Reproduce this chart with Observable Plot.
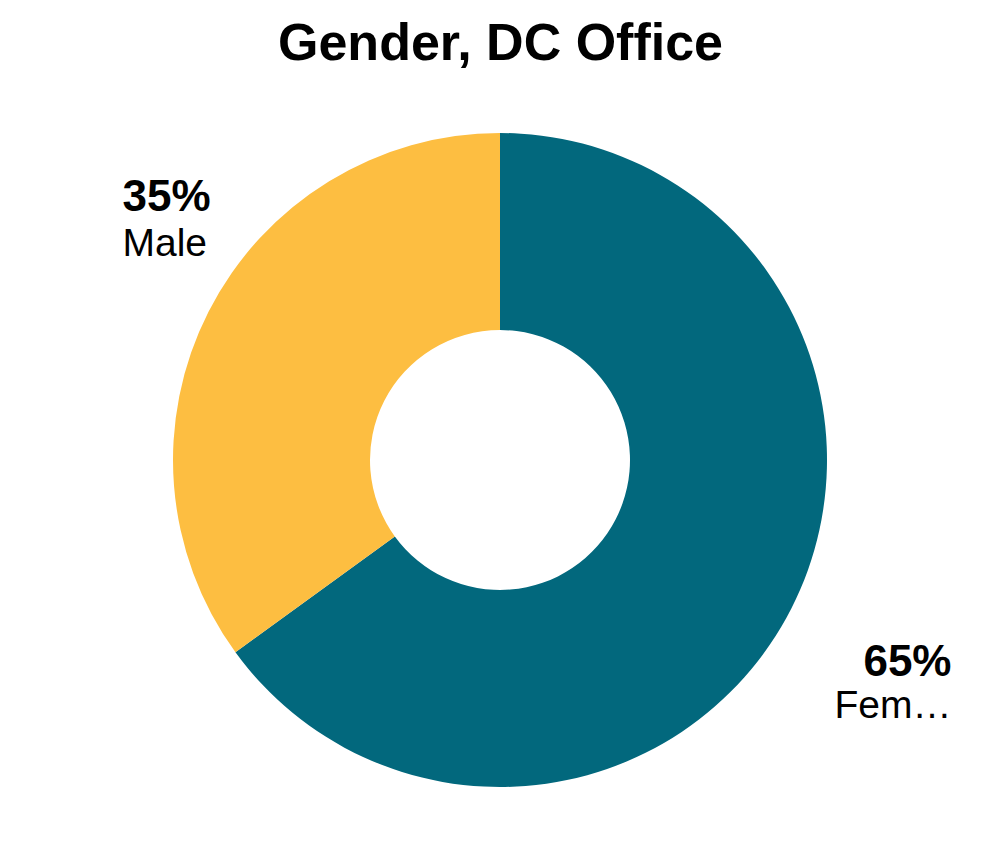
<!DOCTYPE html>
<html><head><meta charset="utf-8">
<script src="https://cdn.jsdelivr.net/npm/d3@7"></script>
<script src="https://cdn.jsdelivr.net/npm/@observablehq/plot@0.6"></script>
<style>body{margin:0;background:#fff}</style>
</head><body><div id="chart"></div>
<script>
const title = "Gender, DC Office";
const categories = ["Female", "Male"];
const values = [65, 35];
const colors = ["#02687D", "#FDBE41"];

// layout (pixels)
const W = 1000, H = 849, CX = 500, CY = 460, R_OUT = 327, R_IN = 130;
const FONT = "'Liberation Sans', Arial, Helvetica, sans-serif";
const labelLayout = {
  Female: {x: 951, pctY: 661, nameY: 705, anchor: "end", lineWidth: 3.05},
  Male:   {x: 122, pctY: 196, nameY: 243, anchor: "start", lineWidth: 10}
};

const rows = categories.map((c, i) => ({category: c, value: values[i], color: colors[i]}));
const total = d3.sum(values);
const arcs = d3.pie().sort(null).value(d => d.value)(rows);

function donut(index, scales) {
  const g = d3.create("svg:g");
  const ox = scales.x(CX), oy = scales.y(CY);
  const arc = d3.arc().innerRadius(R_IN).outerRadius(R_OUT);
  g.selectAll("path").data(arcs).join("path")
    .attr("transform", `translate(${ox},${oy})`)
    .attr("d", arc)
    .attr("fill", d => d.data.color);
  return g.node();
}

const labelMarks = arcs.flatMap(a => {
  const L = labelLayout[a.data.category];
  return [
    Plot.text([a], {
      x: () => L.x, y: () => L.pctY,
      text: d => `${Math.round(d.data.value / total * 100)}%`,
      textAnchor: L.anchor,
      fontSize: 44, fontWeight: "bold", fill: "#000", lineAnchor: "middle"
    }),
    Plot.text([a], {
      x: () => L.x, y: () => L.nameY,
      text: d => d.data.category,
      textAnchor: L.anchor,
      lineWidth: L.lineWidth, textOverflow: "ellipsis-end",
      fontSize: 39, fill: "#000", lineAnchor: "middle"
    })
  ];
});

const chart = Plot.plot({
  width: W, height: H,
  margin: 0,
  x: {domain: [0, W], range: [0, W], axis: null},
  y: {domain: [0, H], range: [0, H], axis: null},
  style: {fontFamily: FONT, background: "#fff"},
  marks: [
    donut,
    Plot.text([title], {frameAnchor: "top", dy: 43, text: d => d, fontSize: 52, fontWeight: "bold", fill: "#000", lineAnchor: "middle"}),
    ...labelMarks
  ]
});
document.getElementById("chart").append(chart);
</script>
</body></html>
